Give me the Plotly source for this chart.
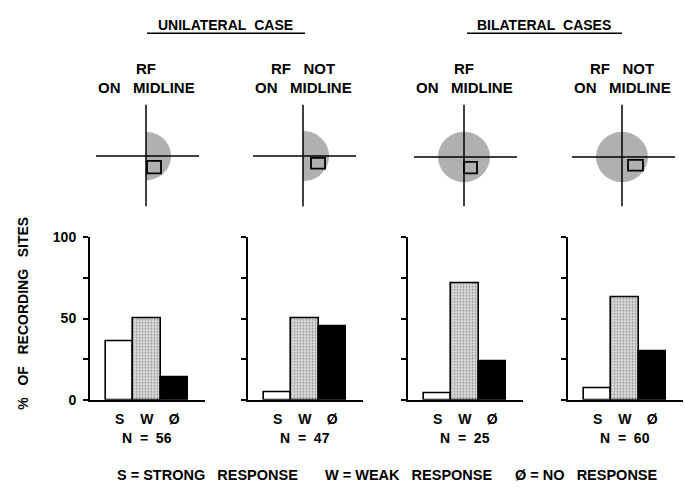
import math
import plotly.graph_objects as go

# ---------------- data ----------------
categories = ["S", "W", "Ø"]
panel_titles_top = ["RF", "RF\u00a0\u00a0\u00a0NOT", "RF", "RF\u00a0\u00a0\u00a0NOT"]
panel_titles_bottom = ["ON\u00a0\u00a0\u00a0MIDLINE"] * 4
group_titles = ["UNILATERAL\u00a0\u00a0CASE", "BILATERAL\u00a0\u00a0CASES"]
unilateral_on_midline = [36, 50, 14]
unilateral_not_midline = [4.5, 50, 45]
bilateral_on_midline = [4, 72, 24]
bilateral_not_midline = [7, 63, 30]
series = [unilateral_on_midline, unilateral_not_midline,
          bilateral_on_midline, bilateral_not_midline]
n_values = [56, 47, 25, 60]
y_tickvals = [0, 25, 50, 75, 100]
y_ticktext = ["0", "", "50", "", "100"]
legend_items = ["S\u00a0=\u00a0STRONG\u00a0\u00a0\u00a0RESPONSE",
                "W\u00a0=\u00a0WEAK\u00a0\u00a0\u00a0RESPONSE",
                "Ø\u00a0=\u00a0NO\u00a0\u00a0\u00a0RESPONSE"]

# ---------------- layout helpers ----------------
W, H = 685, 492
def X(px):
    return px / W
def Y(py):
    return 1 - py / H

FONT = "Liberation Sans, Arial, sans-serif"
axis_left = [90, 248, 408, 568]
axis_width = 115
y_bottom_px, y_top_px = 405, 237

fig = go.Figure()

bar_colors = ["white", "#dedede", "black"]
bar_patterns = ["", ".", ""]

for i, vals in enumerate(series):
    sfx = "" if i == 0 else str(i + 1)
    fig.add_trace(go.Bar(
        x=list(range(len(categories))), y=vals,
        xaxis="x" + sfx, yaxis="y" + sfx,
        width=1.0,
        marker=dict(color=bar_colors,
                    line=dict(color="black", width=1.6),
                    pattern=dict(shape=bar_patterns, fgcolor="#6a6a6a",
                                 size=3, solidity=0.3)),
        showlegend=False, hoverinfo="skip"))
    L = axis_left[i]
    fig.layout["xaxis" + sfx] = dict(
        domain=[X(L), X(L + axis_width)], range=[-1.09, 3.13],
        anchor="y" + sfx, showline=True, linecolor="black", linewidth=2,
        tickvals=[0, 1, 2], ticktext=categories, ticks="",
        tickfont=dict(size=14, family=FONT, color="black", weight="bold"),
        ticklabelstandoff=5,
        showgrid=False, zeroline=False, fixedrange=True)
    fig.layout["yaxis" + sfx] = dict(
        domain=[Y(y_bottom_px), Y(y_top_px)], range=[0, 100],
        anchor="x" + sfx, showline=True, linecolor="black", linewidth=2,
        tickvals=y_tickvals,
        ticktext=y_ticktext if i == 0 else [""] * len(y_tickvals),
        ticks="outside", ticklen=5, tickwidth=1.5, tickcolor="black",
        tickfont=dict(size=14, family=FONT, color="black", weight="bold"),
        ticklabelstandoff=4,
        showgrid=False, zeroline=False, fixedrange=True)

annotations = []
txt = dict(family=FONT, color="black", size=14, weight="bold")

# N labels under each panel
for i, n in enumerate(n_values):
    sfx = "" if i == 0 else str(i + 1)
    annotations.append(dict(xref="x" + sfx, yref="paper", x=1, y=Y(444),
                            text=f"N\u00a0\u00a0=\u00a0\u00a0{n}", showarrow=False,
                            font=txt, xanchor="center", yanchor="middle"))

# y axis title
annotations.append(dict(xref="paper", yref="paper", x=X(23), y=Y(316),
                        text="%\u00a0\u00a0\u00a0OF\u00a0\u00a0\u00a0RECORDING\u00a0\u00a0\u00a0SITES",
                        textangle=-90, showarrow=False, font=txt,
                        xanchor="center", yanchor="middle"))

# legend text
for xpx, t in zip([115, 323, 513], legend_items):
    annotations.append(dict(xref="paper", yref="paper", x=X(xpx), y=Y(483),
                            text=t, showarrow=False,
                            font=dict(family=FONT, color="black", size=14.5, weight="bold"),
                            xanchor="left", yanchor="middle"))

# group titles
for cx, t in zip([226, 544], group_titles):
    annotations.append(dict(xref="paper", yref="paper", x=X(cx), y=Y(18),
                            text=t, showarrow=False, font=txt,
                            xanchor="center", yanchor="middle"))

# panel diagram labels
label_cx = [146, 303, 464, 622]
lab = dict(family=FONT, color="black", size=15, weight="bold")
for cx, t1, t2 in zip(label_cx, panel_titles_top, panel_titles_bottom):
    annotations.append(dict(xref="paper", yref="paper", x=X(cx), y=Y(63),
                            text=t1, showarrow=False, font=lab,
                            xanchor="center", yanchor="middle"))
    annotations.append(dict(xref="paper", yref="paper", x=X(cx), y=Y(82),
                            text=t2, showarrow=False, font=lab,
                            xanchor="center", yanchor="middle"))

shapes = []
# title underlines
for x0, x1 in [(147, 305), (467, 622)]:
    shapes.append(dict(type="line", xref="paper", yref="paper",
                       x0=X(x0), x1=X(x1), y0=Y(26), y1=Y(26),
                       line=dict(color="black", width=1.5)))

GRAY = "#b0b0b0"
# diagrams: (cx, cy, r, full_circle, rect(x0,y0,x1,y1))
diagrams = [
    (146, 153, 25, False, (147, 158, 161, 171)),
    (303, 153, 26, False, (311, 155, 325, 166)),
    (464, 154, 26, True, (464, 159, 477, 171)),
    (622, 154, 26, True, (628, 157, 643, 168)),
]
for cx, cy, r, full, rect in diagrams:
    if full:
        shapes.append(dict(type="circle", xref="paper", yref="paper",
                           x0=X(cx - r), x1=X(cx + r), y0=Y(cy + r), y1=Y(cy - r),
                           fillcolor=GRAY, line=dict(width=0)))
    else:
        pts = []
        for k in range(41):
            a = -math.pi / 2 + math.pi * k / 40
            pts.append((X(cx + r * math.cos(a)), Y(cy + r * math.sin(a))))
        path = "M " + " L ".join(f"{px:.5f},{py:.5f}" for px, py in pts) + " Z"
        shapes.append(dict(type="path", xref="paper", yref="paper", path=path,
                           fillcolor=GRAY, line=dict(width=0)))
    shapes.append(dict(type="line", xref="paper", yref="paper",
                       x0=X(cx), x1=X(cx), y0=Y(100), y1=Y(205),
                       line=dict(color="black", width=1.5)))
    shapes.append(dict(type="line", xref="paper", yref="paper",
                       x0=X(cx - 50), x1=X(cx + 53), y0=Y(cy), y1=Y(cy),
                       line=dict(color="black", width=1.5)))
    rx0, ry0, rx1, ry1 = rect
    shapes.append(dict(type="rect", xref="paper", yref="paper",
                       x0=X(rx0), x1=X(rx1), y0=Y(ry1), y1=Y(ry0),
                       line=dict(color="black", width=1.8),
                       fillcolor="rgba(0,0,0,0)"))

fig.update_layout(
    width=W, height=H, margin=dict(l=0, r=0, t=0, b=0),
    paper_bgcolor="white", plot_bgcolor="white",
    font=dict(family=FONT, color="black"),
    bargap=0, showlegend=False,
    annotations=annotations, shapes=shapes,
)

fig.write_html("out.html")
